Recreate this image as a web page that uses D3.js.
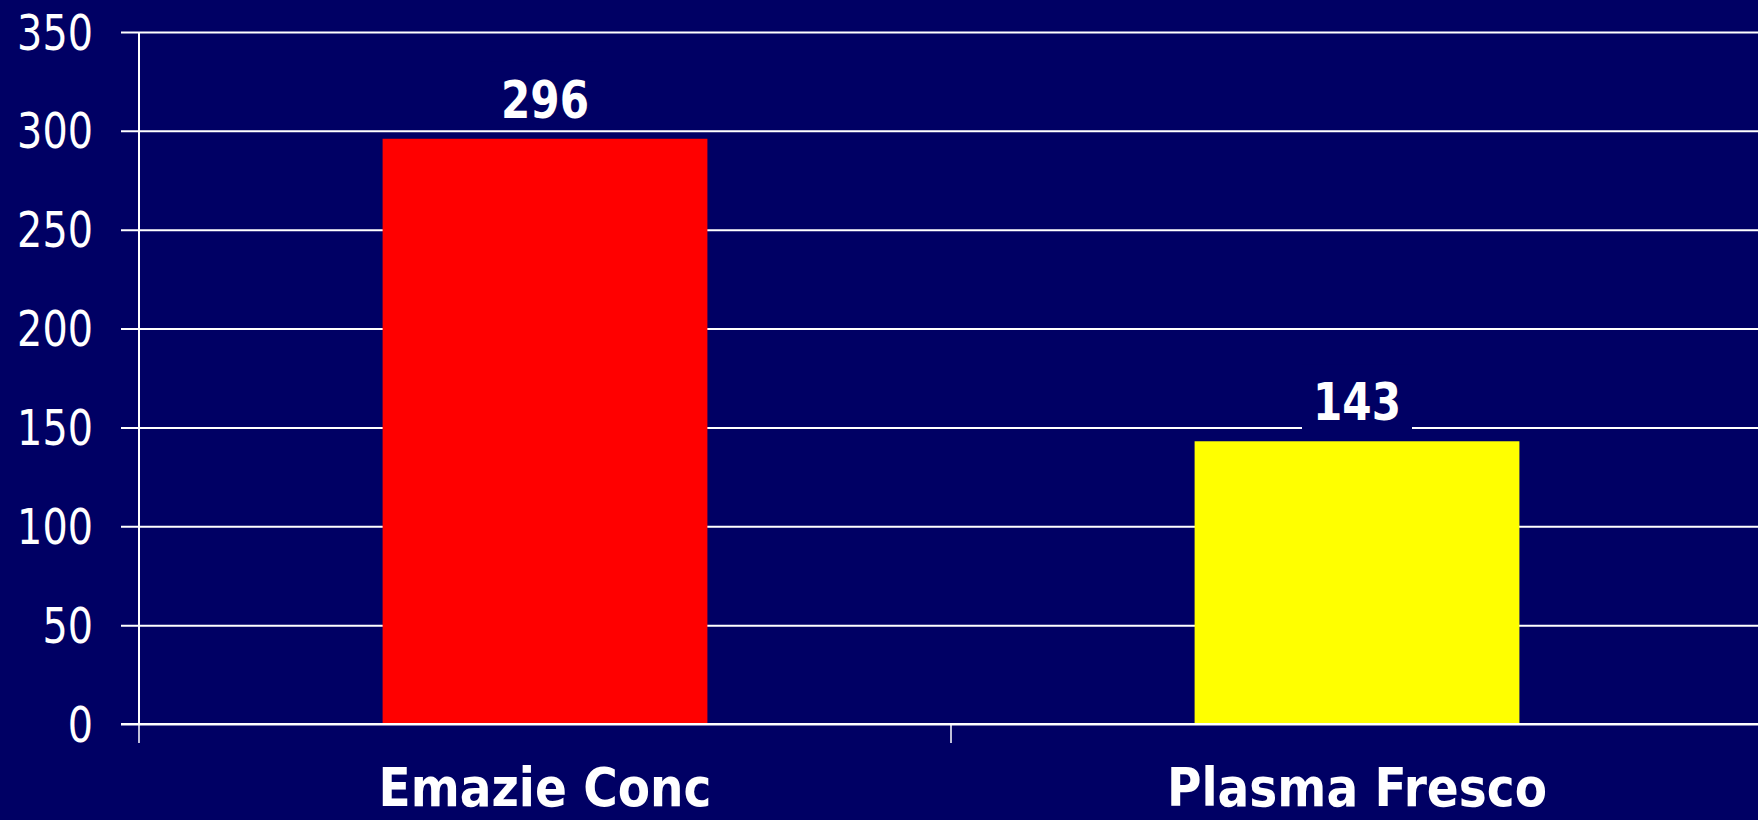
<!DOCTYPE html>
<html>
<head>
<meta charset="utf-8">
<script src="https://cdn.jsdelivr.net/npm/d3@7"></script>
<style>
  html, body { margin: 0; padding: 0; background: #000064; overflow: hidden; }
  svg { display: block; }
</style>
</head>
<body>
<div id="chart"></div>
<script>
// --- data ---
var categories = ["Emazie Conc", "Plasma Fresco"];
var values = [296, 143];
var barColors = ["#ff0000", "#ffff00"];
var yTicks = [0, 50, 100, 150, 200, 250, 300, 350];

// --- dimensions ---
var width = 1758;
var height = 820;
var axisX = 139;
var bg = "#000064";

var x = d3.scaleBand().domain(categories).range([axisX, 1763]).padding(0);
var y = d3.scaleLinear().domain([0, 350]).range([724, 32]);

var svg = d3.select("#chart").append("svg")
    .attr("width", width)
    .attr("height", height);

svg.append("rect").attr("width", width).attr("height", height).attr("fill", bg);

// y axis with gridlines
var yAxis = svg.append("g")
    .attr("transform", "translate(" + axisX + ",0)")
    .call(d3.axisLeft(y).tickValues(yTicks).tickSizeOuter(0));

yAxis.select(".domain").remove();
yAxis.selectAll(".tick line")
    .attr("x1", -18)
    .attr("x2", width - axisX)
    .attr("stroke", "#ffffff")
    .attr("stroke-width", 2);
yAxis.selectAll(".tick text")
    .attr("x", -46)
    .attr("dy", 17)
    .attr("fill", "#ffffff")
    .attr("font-family", "DejaVu Sans, Verdana, sans-serif")
    .attr("font-size", 49)
    .attr("text-anchor", "end")
    .attr("textLength", function(d){ return String(d).length * 25.3; })
    .attr("lengthAdjust", "spacingAndGlyphs");

// vertical axis line
svg.append("line")
    .attr("x1", axisX).attr("x2", axisX)
    .attr("y1", y(350)).attr("y2", y(0))
    .attr("stroke", "#ffffff").attr("stroke-width", 2);

// category ticks at band edges
var edges = categories.map(function(c){ return x(c); });
edges.push(x.range()[1]);
svg.selectAll(".xtick").data(edges).enter().append("line")
    .attr("class", "xtick")
    .attr("x1", function(d){ return d; })
    .attr("x2", function(d){ return d; })
    .attr("y1", y(0))
    .attr("y2", y(0) + 19)
    .attr("stroke", "#ffffff").attr("stroke-width", 1.5);

// bars
var barW = x.bandwidth() * 0.4;
svg.selectAll(".bar").data(values).enter().append("rect")
    .attr("class", "bar")
    .attr("x", function(d, i){ return x(categories[i]) + (x.bandwidth() - barW) / 2; })
    .attr("y", function(d){ return y(d); })
    .attr("width", barW)
    .attr("height", function(d){ return y(0) - y(d); })
    .attr("fill", function(d, i){ return barColors[i]; });

// redraw x axis baseline over bars
svg.append("line")
    .attr("x1", axisX - 18).attr("x2", width)
    .attr("y1", y(0)).attr("y2", y(0))
    .attr("stroke", "#ffffff").attr("stroke-width", 2);

// value labels with background box
var labels = svg.selectAll(".vlabel").data(values).enter().append("g")
    .attr("class", "vlabel")
    .attr("transform", function(d, i){
        return "translate(" + (x(categories[i]) + x.bandwidth() / 2) + "," + (y(d) - 21) + ")";
    });
labels.append("rect")
    .attr("x", -55).attr("y", -56)
    .attr("width", 110).attr("height", 67)
    .attr("fill", bg);
labels.append("text")
    .attr("text-anchor", "middle")
    .attr("fill", "#ffffff")
    .attr("font-family", "DejaVu Sans, Verdana, sans-serif")
    .attr("font-weight", "bold")
    .attr("font-size", 51)
    .attr("textLength", 88)
    .attr("lengthAdjust", "spacingAndGlyphs")
    .text(function(d){ return d; });

// category labels
var catWidths = [333, 380];
svg.selectAll(".clabel").data(categories).enter().append("text")
    .attr("class", "clabel")
    .attr("x", function(d){ return x(d) + x.bandwidth() / 2; })
    .attr("y", 806)
    .attr("text-anchor", "middle")
    .attr("fill", "#ffffff")
    .attr("font-family", "DejaVu Sans, Verdana, sans-serif")
    .attr("font-weight", "bold")
    .attr("font-size", 54)
    .attr("textLength", function(d, i){ return catWidths[i]; })
    .attr("lengthAdjust", "spacingAndGlyphs")
    .text(function(d){ return d; });
</script>
</body>
</html>
